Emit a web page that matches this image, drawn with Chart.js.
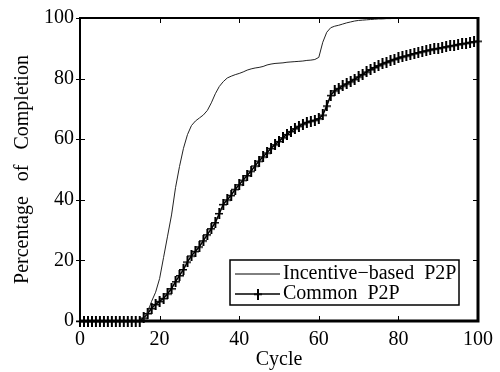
<!DOCTYPE html>
<html>
<head>
<meta charset="utf-8">
<script src="https://cdn.jsdelivr.net/npm/chart.js@4"></script>
<style>
  html, body { margin: 0; padding: 0; background: #fff; }
  #wrap { width: 500px; height: 372px; }
</style>
</head>
<body>
<div id="wrap"><canvas id="grafico" width="500" height="372"></canvas></div>
<script>
// === DATI ===
const cicli = [];
for (let i = 0; i <= 100; i++) cicli.push(i);

// Incentive-based P2P, cicli 0..84
const incentivo = [
  0, 0, 0, 0, 0, 0, 0, 0, 0, 0,
  0, 0, 0, 0, 0, 0, 0.5, 3, 6.5, 9.5,
  14, 21, 28, 35, 44, 51, 57, 61.5, 64.5, 66,
  67, 68, 69.5, 72, 75, 77.4, 79, 80.2, 80.8, 81.3,
  81.7, 82.2, 82.8, 83.2, 83.5, 83.7, 84, 84.5, 84.8, 85,
  85.1, 85.2, 85.4, 85.5, 85.6, 85.7, 85.8, 86, 86.1, 86.3,
  87, 92, 95.3, 96.8, 97.3, 97.6, 98, 98.4, 98.7, 99,
  99.2, 99.3, 99.4, 99.5, 99.6, 99.7, 99.7, 99.8, 99.8, 99.9,
  99.9, 100, 100, 100, 100
];

// Common P2P, cicli 0..100
const comune = [
  0, 0, 0, 0, 0, 0, 0, 0, 0, 0,
  0, 0, 0, 0, 0, 0, 1, 2.5, 4.2, 5.5,
  6.5, 7.5, 9, 10.7, 13, 15, 17, 19.5, 21.5, 23,
  24.5, 26.5, 28.5, 30.5, 32.5, 35.5, 38.5, 40, 41.5, 43.5,
  45, 46.5, 48, 49.5, 51.2, 52.8, 54.2, 55.5, 57, 58.2,
  59.3, 60.5, 61.6, 62.6, 63.5, 64.3, 65, 65.6, 66, 66.3,
  66.8, 68, 71, 74.5, 76, 76.8, 77.6, 78.3, 79, 79.8,
  80.6, 81.4, 82.2, 83, 83.7, 84.3, 84.9, 85.4, 85.9, 86.4,
  86.8, 87.2, 87.5, 87.9, 88.3, 88.6, 88.9, 89.2, 89.5, 89.8,
  90, 90.3, 90.5, 90.8, 91, 91.3, 91.5, 91.7, 92, 92.2,
  92.4
];

const xTicks = [0, 20, 40, 60, 80, 100];
const yTicks = [0, 20, 40, 60, 80, 100];
const etichette = ['Incentive\u2212based  P2P', 'Common  P2P'];

const FONT = '"Liberation Serif", "Times New Roman", serif';

// marker "+" piu' alto che largo
function creaCroce() {
  const c = document.createElement('canvas');
  c.width = 8; c.height = 11;
  const g = c.getContext('2d');
  g.fillStyle = '#000';
  g.fillRect(3, 0, 2, 11);
  g.fillRect(0, 5, 8, 1.5);
  return c;
}
const croce = creaCroce();

// === PLUGIN: cornice, tacche interne, legenda ===
const cornice = {
  id: 'cornice',
  afterDatasetsDraw(chart) {
    const { ctx, chartArea: a, scales } = chart;
    ctx.save();
    ctx.strokeStyle = '#000';
    // tacche interne
    ctx.lineWidth = 1;
    ctx.beginPath();
    xTicks.forEach(v => {
      const x = Math.round(scales.x.getPixelForValue(v)) + 0.5;
      ctx.moveTo(x, a.bottom); ctx.lineTo(x, a.bottom - 5);
      ctx.moveTo(x, a.top); ctx.lineTo(x, a.top + 5);
    });
    yTicks.forEach(v => {
      const y = Math.round(scales.y.getPixelForValue(v)) + 0.5;
      ctx.moveTo(a.left - 4, y); ctx.lineTo(a.left + 5, y);
      ctx.moveTo(a.right, y); ctx.lineTo(a.right - 5, y);
    });
    ctx.stroke();
    // bordi
    ctx.lineWidth = 2;
    ctx.beginPath();
    ctx.moveTo(a.left, a.bottom); ctx.lineTo(a.left, a.top); ctx.lineTo(a.right, a.top);
    ctx.stroke();
    ctx.lineWidth = 3;
    ctx.beginPath();
    ctx.moveTo(a.right, a.top - 1); ctx.lineTo(a.right, a.bottom); ctx.lineTo(a.left - 1, a.bottom);
    ctx.stroke();

    // legenda
    const bx = a.left + 150, by = a.top + 242, bw = 229, bh = 45;
    ctx.fillStyle = '#fff';
    ctx.fillRect(bx, by, bw, bh);
    ctx.lineWidth = 1.5;
    ctx.strokeRect(bx, by, bw, bh);
    ctx.font = '20px ' + FONT;
    ctx.fillStyle = '#000';
    ctx.textBaseline = 'middle';
    const righe = [by + 14, by + 34];
    ctx.lineWidth = 1;
    ctx.beginPath();
    ctx.moveTo(bx + 5, righe[0]); ctx.lineTo(bx + 50, righe[0]);
    ctx.stroke();
    ctx.lineWidth = 1.5;
    ctx.beginPath();
    ctx.moveTo(bx + 5, righe[1]); ctx.lineTo(bx + 50, righe[1]);
    ctx.stroke();
    ctx.drawImage(croce, bx + 24, righe[1] - 5.5);
    ctx.fillText(etichette[0], bx + 53, righe[0]);
    ctx.fillText(etichette[1], bx + 53, righe[1]);
    ctx.restore();
  }
};

// === GRAFICO ===
const ctx = document.getElementById('grafico').getContext('2d');
const chart = new Chart(ctx, {
  type: 'line',
  data: {
    datasets: [
      {
        label: etichette[0],
        data: incentivo.map((v, i) => ({ x: cicli[i], y: v })),
        borderColor: '#222',
        borderWidth: 1,
        pointRadius: 0,
        tension: 0
      },
      {
        label: etichette[1],
        data: comune.map((v, i) => ({ x: cicli[i], y: v })),
        borderColor: '#000',
        borderWidth: 1.5,
        pointStyle: croce,
        pointRadius: 4,
        tension: 0,
        clip: false
      }
    ]
  },
  options: {
    responsive: false,
    animation: false,
    layout: { padding: { top: 16, right: 21, left: 0, bottom: 0 } },
    plugins: {
      legend: { display: false },
      tooltip: { enabled: false }
    },
    scales: {
      x: {
        type: 'linear',
        min: 0,
        max: 100,
        afterBuildTicks: s => { s.ticks = xTicks.map(v => ({ value: v })); },
        afterFit: s => { s.height = 51; },
        grid: { display: false, drawTicks: false },
        border: { display: false },
        ticks: { color: '#000', font: { family: FONT, size: 20 }, padding: 7, maxRotation: 0 },
        title: { display: true, text: 'Cycle', color: '#000', font: { family: FONT, size: 20 }, padding: { top: 3, bottom: 0 } }
      },
      y: {
        min: 0,
        max: 100,
        afterBuildTicks: s => { s.ticks = yTicks.map(v => ({ value: v })); },
        afterFit: s => { s.width = 80; },
        grid: { display: false, drawTicks: false },
        border: { display: false },
        ticks: { color: '#000', font: { family: FONT, size: 20 }, padding: 6 },
        title: { display: true, text: 'Percentage   of   Completion', color: '#000', font: { family: FONT, size: 20 }, padding: { top: 11, bottom: 0 } }
      }
    }
  },
  plugins: [cornice]
});
</script>
</body>
</html>
